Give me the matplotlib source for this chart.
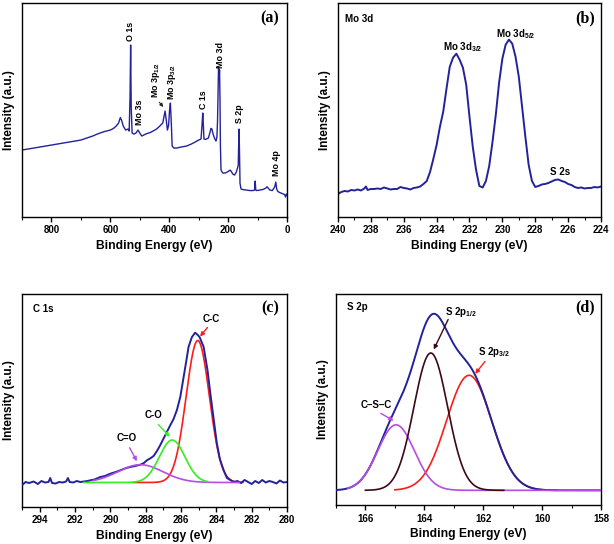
import numpy as np
import matplotlib
matplotlib.use("Agg")
import matplotlib.pyplot as plt
from matplotlib.ticker import MultipleLocator

plt.rcParams['font.family'] = ['Liberation Sans', 'DejaVu Sans']
plt.rcParams['font.weight'] = 'bold'
plt.rcParams['mathtext.fontset'] = 'custom'
plt.rcParams['mathtext.rm'] = 'Liberation Sans:bold'
plt.rcParams['mathtext.it'] = 'Liberation Sans:bold'
plt.rcParams['mathtext.bf'] = 'Liberation Sans:bold'

# ---------------- (a) survey spectrum ----------------
survey_be = [900, 880, 860, 840, 820, 800, 780, 760, 740, 720, 700, 680, 660, 640, 620,
             600, 590, 580, 572, 566, 562, 556, 548, 540, 536, 533, 531, 529, 526,
             520, 513, 506, 500, 493, 480, 465, 455, 443, 432, 422, 418, 414, 410,
             406, 402, 399, 396, 393, 390, 384, 375, 360, 341, 325, 312, 300, 292,
             289, 286, 284, 282, 276, 267, 262, 258, 255, 251, 246, 241, 238, 236,
             234, 232.5, 231, 230, 229, 227.5, 226, 224, 218, 210, 200, 193, 189,
             184, 178, 172, 168, 165.5, 163, 161.5, 159.5, 156, 150, 138, 126, 115,
             110, 108, 106, 103, 92, 80, 72, 68, 64, 58, 50, 44, 41, 38, 35, 32, 28,
             24, 18, 12, 8, 5, 2, 0]
survey_int = [67, 68, 69, 70, 71, 72, 73, 74, 75, 76, 77, 79, 81, 83.5, 85.5,
              87, 88.5, 91, 94, 99.5, 97, 91, 87, 88, 86, 120, 172, 110, 84,
              83, 84, 87, 84, 81, 83, 84.5, 86, 88, 91, 94, 100, 106, 97,
              87, 92, 106, 114, 95, 71, 69, 69, 70, 71, 73, 75, 77, 78,
              90, 104, 92, 78, 77.7, 79, 84, 88.7, 88, 83, 78.7, 76, 80, 95,
              125, 150, 141, 142, 147, 118, 70, 47, 44, 44, 45.5, 47, 45.5,
              43, 42, 45, 49, 52, 88, 70, 33.7, 28, 27.5, 27, 26.5, 26.5,
              27, 36, 27, 26.5, 27, 27.7, 29, 30.3, 29, 27, 26.5, 29, 31, 35, 28, 26, 25,
              24.5, 23.7, 23, 22.5, 20, 23, 22]

# ---------------- (b) Mo 3d ----------------
mo_be = [240.0, 239.8, 239.6, 239.4, 239.2, 239.0, 238.8, 238.6, 238.4, 238.3, 238.2, 238.0,
         237.8, 237.6, 237.4, 237.2, 237.0, 236.8, 236.6, 236.4, 236.2, 236.0, 235.8, 235.6,
         235.4, 235.2, 235.0, 234.8, 234.6, 234.4, 234.2, 234.0, 233.8, 233.6, 233.4, 233.2,
         233.0, 232.8, 232.6, 232.4, 232.2, 232.0, 231.8, 231.6, 231.4, 231.2, 231.0, 230.8,
         230.6, 230.4, 230.2, 230.0, 229.8, 229.6, 229.4, 229.2, 229.0, 228.8, 228.6, 228.4,
         228.2, 228.0, 227.8, 227.6, 227.4, 227.2, 227.0, 226.8, 226.6, 226.4, 226.2, 226.0,
         225.8, 225.6, 225.4, 225.2, 225.0, 224.8, 224.6, 224.4, 224.2, 224.0]
mo_int = [23, 25, 26, 25.5, 27, 26.5, 27.5, 26.5, 28.5, 30.5, 27, 28,
          28, 28.5, 28, 29.5, 28.5, 27.5, 28, 28, 30, 29, 28.5, 27.5,
          29, 29.5, 30.5, 33, 36, 45, 58, 72, 90, 105, 128, 150,
          159, 163, 157, 149, 132, 100, 70, 47, 31, 29.5, 36, 51,
          75, 102, 134, 158, 172, 177, 173, 160, 140, 110, 80, 52,
          36, 30, 31, 32.5, 33, 34, 35.5, 37, 37.5, 36, 35, 33,
          32, 30, 29, 29.5, 28.5, 29, 29, 30, 29.5, 30.5]

# ---------------- (c) C 1s ----------------
c_be = [295.0, 294.8, 294.6, 294.34, 294.1, 293.9, 293.7, 293.5, 293.4, 293.3, 293.1, 292.9,
        292.7, 292.5, 292.4, 292.3, 292.1, 291.9, 291.7, 291.5, 291.3, 291.13, 290.9, 290.7,
        290.57, 290.3, 290.0, 289.7, 289.44, 289.1, 288.87, 288.6, 288.3, 288.1, 287.93,
        287.75, 287.55, 287.36, 287.17, 287.0, 286.8, 286.6, 286.42, 286.23, 286.04, 285.85,
        285.7, 285.57, 285.38, 285.2, 285.05, 284.95, 284.72, 284.5, 284.34, 284.15, 283.97,
        283.8, 283.59, 283.4, 283.21, 283.02, 282.8, 282.6, 282.4, 282.2, 282.0, 281.8,
        281.6, 281.4, 281.2, 281.0, 280.8, 280.6, 280.4, 280.2, 280.0]
c_int = [21.7, 25, 24, 25.5, 23, 26, 24.5, 25, 29, 24, 23.5, 25,
         24.5, 25.5, 29, 25, 24.5, 26, 25, 25.5, 26, 26.7, 27.5, 29,
         30, 31, 33.3, 35, 36.7, 39, 40, 41, 42.3, 44, 46.7,
         48.5, 51, 56, 62, 68, 75, 82, 88, 97, 110, 130,
         146, 160.3, 170, 174.3, 172, 170, 160.3, 137, 113.7, 88, 63.7,
         48, 37, 29, 27, 25, 26, 24, 27, 25, 23, 26,
         24, 27, 24.5, 26, 25, 23.5, 26.5, 24.5, 25]
c_base = 24.5
c_names = ['C=O', 'C-O', 'C-C']
c_centers = [288.3, 286.5, 285.05]
c_heights = [17.8, 42.5, 142.0]
c_fwhm = [3.0, 1.7, 1.55]
c_ranges = [(291.0, 282.7), (291.5, 284.5), (288.7, 282.5)]
c_colors = ['#b64ce6', '#33ee22', '#ff1a1a']

# ---------------- (d) S 2p ----------------
s_base = 15.0
s_names = ['C\u2013S\u2013C', 'S 2p$_{1/2}$', 'S 2p$_{3/2}$']
s_centers = [164.96, 163.78, 162.48]
s_heights = [65.5, 137.3, 115.0]
s_fwhm = [1.46, 1.35, 1.8]
s_ranges = [(166.6, 158.0), (166.0, 161.3), (165.0, 159.5)]
s_colors = ['#b64ce6', '#3a0a18', '#ff1a1a']

navy = '#23229a'

fig = plt.figure(figsize=(6.14, 5.44), dpi=100)
axa = fig.add_axes([0.0358, 0.601, 0.4316, 0.3934])
axb = fig.add_axes([0.5505, 0.601, 0.4283, 0.3934])
axc = fig.add_axes([0.0358, 0.068, 0.4316, 0.3921])
axd = fig.add_axes([0.5472, 0.0711, 0.4316, 0.389])

def style(ax, xlim, ylim, major, minor):
    ax.set_xlim(*xlim)
    ax.set_ylim(*ylim)
    ax.xaxis.set_major_locator(MultipleLocator(major))
    ax.xaxis.set_minor_locator(MultipleLocator(minor))
    ax.set_yticks([])
    ax.tick_params(axis='x', which='major', direction='out', length=3.5, width=1,
                   labelsize=7, pad=2.5)
    ax.tick_params(axis='x', which='minor', direction='out', length=2, width=0.8)
    for lab in ax.get_xticklabels():
        lab.set_fontweight('bold')
    for sp in ax.spines.values():
        sp.set_linewidth(1.0)
    ax.set_xlabel('Binding Energy (eV)', fontsize=8.7, fontweight='bold', labelpad=3)
    ax.set_ylabel('Intensity (a.u.)', fontsize=8.5, fontweight='bold')
    ax.yaxis.set_label_coords(-0.026, 0.5)

def gauss(x, c, h, w):
    s = w / 2.3548
    return h * np.exp(-(x - c) ** 2 / (2 * s * s))

# (a)
style(axa, (900, 0), (0, 214), 200, 100)
axa.plot(survey_be, survey_int, color=navy, lw=1.0)
lab_a = [('O 1s', 531, 176), ('Mo 3s', 500, 92), ('Mo 3p$_{1/2}$', 446, 119),
         ('Mo 3p$_{3/2}$', 392, 117), ('C 1s', 284, 108), ('Mo 3d', 227, 149),
         ('S 2p', 162, 94), ('Mo 4p', 37, 41)]
for t, x, y in lab_a:
    axa.text(x, y, t, rotation=90, ha='center', va='bottom', fontsize=6.4,
             fontweight='bold')
axa.annotate('', xy=(414, 108), xytext=(440, 117),
             arrowprops=dict(arrowstyle='-|>', color='#222222', lw=0.7,
                             mutation_scale=5))
axa.text(0.935, 0.93, '(a)', transform=axa.transAxes, ha='center', va='center',
         fontsize=11.5, fontweight='bold', family='Liberation Serif')

# (b)
style(axb, (240, 224), (0, 213.5), 2, 1)
axb.plot(mo_be, mo_int, color=navy, lw=1.4)
axb.text(0.027, 0.927, 'Mo 3d', transform=axb.transAxes, ha='left', va='center',
         fontsize=7, fontweight='bold')
axb.text(232.4, 170, 'Mo 3d$_{3/2}$', ha='center', va='center', fontsize=7)
axb.text(229.2, 183, 'Mo 3d$_{5/2}$', ha='center', va='center', fontsize=7)
axb.text(226.5, 44.5, 'S 2s', ha='center', va='center', fontsize=7)
axb.text(0.94, 0.93, '(b)', transform=axb.transAxes, ha='center', va='center',
         fontsize=11.5, fontweight='bold', family='Liberation Serif')

# (c)
style(axc, (295, 280), (0, 213.3), 2, 1)
axc.plot(c_be, c_int, color=navy, lw=1.4, zorder=3)
for i in range(3):
    x = np.linspace(c_ranges[i][0], c_ranges[i][1], 400)
    y = c_base + gauss(x, c_centers[i], c_heights[i], c_fwhm[i])
    z = 2 if c_names[i] == 'C-C' else 4
    axc.plot(x, y, color=c_colors[i], lw=1.2, zorder=z)
axc.text(0.042, 0.93, 'C 1s', transform=axc.transAxes, ha='left', va='center',
         fontsize=7)
axc.text(0.938, 0.93, '(c)', transform=axc.transAxes, ha='center', va='center',
         fontsize=11.5, fontweight='bold', family='Liberation Serif')
ann_c = [('C-C', (284.26, 188.3), (284.4, 181.7), (285.02, 168.3), '#ff1a1a'),
         ('C-O', (287.57, 91.7), (287.38, 84.3), (286.53, 68.3), '#33ee22'),
         ('C=O', (289.07, 69.3), (288.98, 61.7), (288.42, 43.3), '#b64ce6')]
for t, tp, a0, a1, col in ann_c:
    axc.text(tp[0], tp[1], t, ha='center', va='center', fontsize=7, zorder=6)
    axc.annotate('', xy=a1, xytext=a0,
                 arrowprops=dict(arrowstyle='-|>', color=col, lw=1.0,
                                 mutation_scale=6), zorder=6)

# (d)
style(axd, (167, 158), (0, 211.6), 2, 1)
xs = np.linspace(167, 158, 900)
env = s_base + sum(gauss(xs, s_centers[i], s_heights[i], s_fwhm[i]) for i in range(3))
axd.plot(xs, env, color=navy, lw=1.4, zorder=3)
zs = [4, 5, 2]
for i in range(3):
    x = np.linspace(s_ranges[i][0], s_ranges[i][1], 500)
    y = s_base + gauss(x, s_centers[i], s_heights[i], s_fwhm[i])
    axd.plot(x, y, color=s_colors[i], lw=1.2, zorder=zs[i])
axd.text(0.042, 0.937, 'S 2p', transform=axd.transAxes, ha='left', va='center',
         fontsize=7)
axd.text(0.94, 0.937, '(d)', transform=axd.transAxes, ha='center', va='center',
         fontsize=11.5, fontweight='bold', family='Liberation Serif')
ann_d = [(s_names[1], (162.76, 193.3), (163.15, 188.3), (163.72, 153.3), '#3a0a18'),
         (s_names[2], (161.65, 153.3), (161.88, 146.0), (162.33, 129.3), '#ff1a1a'),
         (s_names[0], (165.62, 100.6), (165.56, 93.3), (164.96, 83.3), '#b64ce6')]
for t, tp, a0, a1, col in ann_d:
    axd.text(tp[0], tp[1], t, ha='center', va='center', fontsize=7, zorder=6)
    axd.annotate('', xy=a1, xytext=a0,
                 arrowprops=dict(arrowstyle='-|>', color=col, lw=1.0,
                                 mutation_scale=6), zorder=6)

fig.savefig('out.png', dpi=100)
